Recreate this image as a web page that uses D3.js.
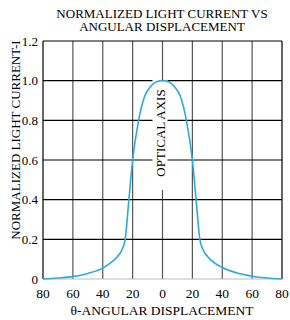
<!DOCTYPE html>
<html>
<head>
<meta charset="utf-8">
<script src="https://cdnjs.cloudflare.com/ajax/libs/d3/7.8.5/d3.min.js"></script>
<style>
  body { margin: 0; background: #fff; }
  svg { display: block; font-family: "Liberation Serif", "DejaVu Serif", serif; }
</style>
</head>
<body>
<svg width="290" height="320"></svg>
<script>
// data
const angles = [-80, -70, -60, -50, -40, -35, -30, -27, -25, -22.5, -20, -16, -12, -8, -4, 0,
                4, 8, 12, 16, 20, 22.5, 25, 27, 30, 35, 40, 50, 60, 70, 80];
const current = [0, 0.005, 0.012, 0.028, 0.055, 0.08, 0.115, 0.15, 0.2, 0.4, 0.6, 0.8, 0.92, 0.97, 0.995, 1.0,
                 0.995, 0.97, 0.92, 0.8, 0.6, 0.4, 0.2, 0.15, 0.115, 0.08, 0.058, 0.03, 0.014, 0.005, 0];
const xTicks = [-80, -60, -40, -20, 0, 20, 40, 60, 80];
const yTicks = [0, 0.2, 0.4, 0.6, 0.8, 1.0, 1.2];

const svg = d3.select("svg");
const m = {left: 43, right: 282, top: 41, bottom: 279};

const x = d3.scaleLinear().domain([-80, 80]).range([m.left, m.right]);
const y = d3.scaleLinear().domain([0, 1.2]).range([m.bottom, m.top]);

// grid
svg.append("g").selectAll("line").data(xTicks).enter().append("line")
  .attr("x1", d => x(d)).attr("x2", d => x(d))
  .attr("y1", m.top).attr("y2", m.bottom)
  .attr("stroke", d => (d === -80 || d === 80) ? "#000" : "#555").attr("stroke-width", 1.2);

svg.append("g").selectAll("line").data(yTicks).enter().append("line")
  .attr("x1", m.left).attr("x2", m.right)
  .attr("y1", d => y(d)).attr("y2", d => y(d))
  .attr("stroke", d => d === 0 ? "#bbb" : "#000").attr("stroke-width", 1.2);

// tick labels
svg.append("g").selectAll("text").data(yTicks).enter().append("text")
  .attr("x", m.left - 5).attr("y", d => y(d) + 4.5)
  .attr("text-anchor", "end").style("font-size", "13px")
  .text(d => d === 0 ? "0" : d.toFixed(1));

svg.append("g").selectAll("text").data(xTicks).enter().append("text")
  .attr("x", d => x(d)).attr("y", 298)
  .attr("text-anchor", "middle").style("font-size", "13.5px")
  .text(d => Math.abs(d));

// optical axis label with white box
const cx = x(0) - 2, cy = 133;
svg.append("rect").attr("x", cx - 8).attr("y", 80).attr("width", 15).attr("height", 110).attr("fill", "#fff");
svg.append("text")
  .attr("transform", `translate(${cx + 4.5},${cy}) rotate(-90)`)
  .attr("text-anchor", "middle").style("font-size", "13px")
  .text("OPTICAL AXIS");

// curve
const line = d3.line().x((d, i) => x(angles[i])).y(d => y(d)).curve(d3.curveMonotoneX);
svg.append("path").datum(current).attr("d", line)
  .attr("fill", "none").attr("stroke", "#29abe2").attr("stroke-width", 1.6);

// titles
svg.append("text").attr("x", 162).attr("y", 18).attr("text-anchor", "middle")
  .style("font-size", "13px").text("NORMALIZED LIGHT CURRENT VS");
svg.append("text").attr("x", 162).attr("y", 31).attr("text-anchor", "middle")
  .style("font-size", "13px").text("ANGULAR DISPLACEMENT");
svg.append("text").attr("x", 162).attr("y", 315).attr("text-anchor", "middle")
  .style("font-size", "13.5px").text("θ-ANGULAR DISPLACEMENT");
svg.append("text")
  .attr("transform", "translate(20,140) rotate(-90)")
  .attr("text-anchor", "middle").style("font-size", "13px")
  .text("NORMALIZED LIGHT CURRENT-I");
</script>
</body>
</html>
